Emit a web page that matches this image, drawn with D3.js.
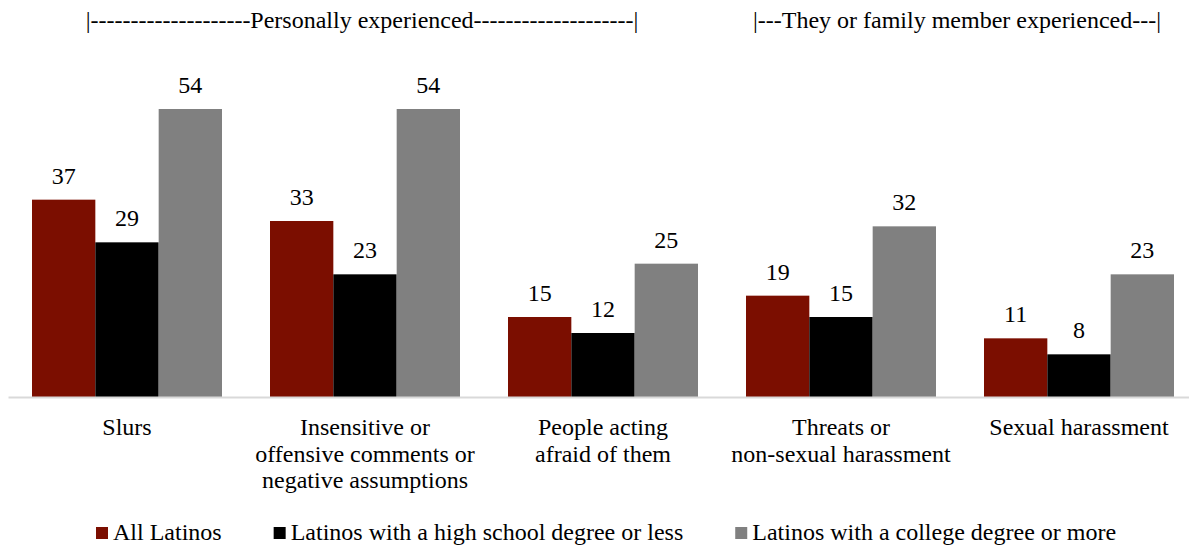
<!DOCTYPE html>
<html>
<head>
<meta charset="utf-8">
<script src="https://cdn.jsdelivr.net/npm/d3@7"></script>
<style>
  html, body { margin: 0; padding: 0; background: #fff; }
</style>
</head>
<body>
<svg id="fig" width="1189" height="546" font-family="Times New Roman, Liberation Serif, serif" font-size="24"></svg>
<script>
// Categories (each entry is the list of lines of its label)
const categories = [
  ["Slurs"],
  ["Insensitive or", "offensive comments or", "negative assumptions"],
  ["People acting", "afraid of them"],
  ["Threats or", "non-sexual harassment"],
  ["Sexual harassment"]
];
const seriesNames = [
  "All Latinos",
  "Latinos with a high school degree or less",
  "Latinos with a college degree or more"
];
const allLatinos = [37, 33, 15, 19, 11];
const highSchoolOrLess = [29, 23, 12, 15, 8];
const collegeOrMore = [54, 54, 25, 32, 23];
const seriesValues = [allLatinos, highSchoolOrLess, collegeOrMore];
const seriesColors = ["#7b0e00", "#000000", "#808080"];

// Bracket headers over groups of categories: [first index, last index, text]
const headers = [
  [0, 2, "|--------------------Personally experienced--------------------|"],
  [3, 4, "|---They or family member experienced---|"]
];

const svg = d3.select("#fig");

const catKeys = categories.map(c => c.join(" "));
const x0 = d3.scaleBand().domain(catKeys).range([8, 1198]).padding(0);
const x1 = d3.scaleBand().domain(seriesNames).range([24, x0.bandwidth() - 24]).padding(0);
const y = d3.scaleLinear().domain([0, 60]).range([397, 77]);

// Bars
const groups = svg.append("g").selectAll("g")
  .data(catKeys)
  .join("g")
  .attr("transform", d => `translate(${x0(d)},0)`);

groups.selectAll("rect")
  .data((d, i) => seriesNames.map((s, j) => ({ s, j, v: seriesValues[j][i] })))
  .join("rect")
  .attr("x", d => x1(d.s))
  .attr("width", x1.bandwidth())
  .attr("y", d => y(d.v))
  .attr("height", d => y(0) - y(d.v))
  .attr("fill", d => seriesColors[d.j]);

// Value labels
groups.selectAll("text.val")
  .data((d, i) => seriesNames.map((s, j) => ({ s, j, v: seriesValues[j][i] })))
  .join("text")
  .attr("class", "val")
  .attr("x", d => x1(d.s) + x1.bandwidth() / 2)
  .attr("y", d => y(d.v) - 16)
  .attr("text-anchor", "middle")
  .attr("fill", "#000")
  .text(d => d.v);

// Category axis line
const axis = svg.append("g")
  .attr("transform", `translate(0,${y(0)})`)
  .call(d3.axisBottom(x0).tickSize(0).tickFormat(""));
axis.attr("font-family", null).attr("font-size", null);
axis.select(".domain").attr("stroke", "#d9d9d9").attr("stroke-width", 2);

// Category labels
const lineH = 26.5;
svg.append("g").selectAll("text")
  .data(categories)
  .join("text")
  .attr("x", (d, i) => x0(catKeys[i]) + x0.bandwidth() / 2)
  .attr("y", 435)
  .attr("text-anchor", "middle")
  .attr("fill", "#000")
  .selectAll("tspan")
  .data(d => d)
  .join("tspan")
  .attr("x", function () { return d3.select(this.parentNode).attr("x"); })
  .attr("dy", (d, i) => i === 0 ? 0 : lineH)
  .text(d => d);

// Bracket headers
svg.append("g").selectAll("text")
  .data(headers)
  .join("text")
  .attr("x", d => (x0(catKeys[d[0]]) + x0(catKeys[d[1]]) + x0.bandwidth()) / 2 - 3)
  .attr("y", 28)
  .attr("text-anchor", "middle")
  .attr("fill", "#000")
  .text(d => d[2]);

// Legend
const legend = svg.append("g");
let lx = 96;
seriesNames.forEach((name, j) => {
  legend.append("rect")
    .attr("x", lx).attr("y", 527)
    .attr("width", 12).attr("height", 12)
    .attr("fill", seriesColors[j]);
  const t = legend.append("text")
    .attr("x", lx + 17).attr("y", 540)
    .attr("fill", "#000")
    .text(name);
  lx += 17 + t.node().getComputedTextLength() + 52;
});
</script>
</body>
</html>
